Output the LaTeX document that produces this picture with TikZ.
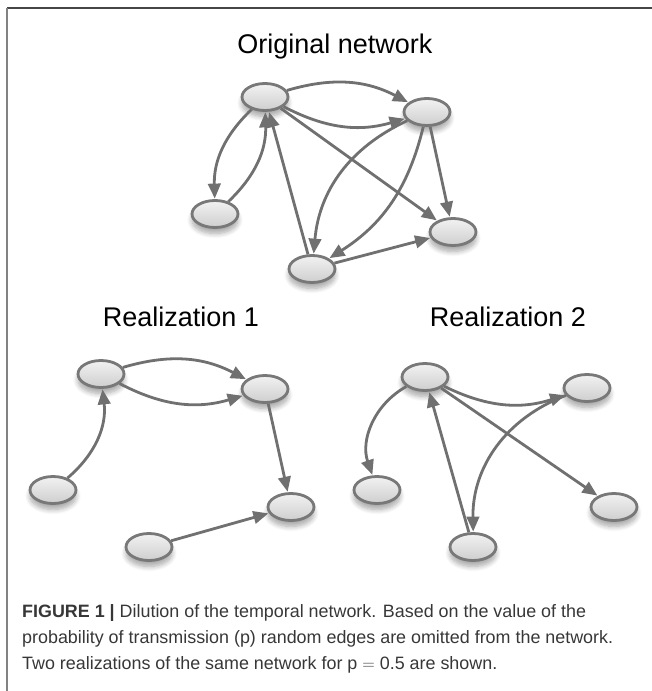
\documentclass[tikz,border=0pt]{standalone}
\usepackage{fontspec}
\setmainfont{Liberation Sans}
\usetikzlibrary{arrows.meta,shapes.geometric,shadows.blur}
\definecolor{edgegray}{RGB}{112, 112, 112}
\definecolor{rimgray}{RGB}{120, 120, 120}
\definecolor{filltop}{RGB}{242, 242, 242}
\definecolor{fillbottom}{RGB}{206, 206, 206}
\definecolor{framedark}{RGB}{70, 70, 70}
\definecolor{framelight}{RGB}{130, 130, 130}
\definecolor{captiongray}{RGB}{55, 55, 55}

\begin{document}
\begin{tikzpicture}[
        x=1pt, y=1pt,
        vertex/.style={ellipse, draw=rimgray, line width=2.8pt, minimum width=46pt, minimum height=27pt, inner sep=0pt,
            top color=filltop, bottom color=fillbottom,
            blur shadow={shadow xshift=0pt, shadow yshift=-6pt, shadow blur steps=8, shadow blur radius=5pt, shadow opacity=35}},
        link/.style={-{Triangle[length=15pt,width=12.5pt]}, line width=2.8pt, color=edgegray, shorten >=0.5pt},
        heading/.style={font=\fontsize{27}{30}\selectfont, text=black, inner sep=0pt}
    ]
    \useasboundingbox (0,0) rectangle (652,-691);

    % Frame lines
    \draw[framedark, line width=2pt] (7,-8) -- (652,-8);
    \draw[framelight, line width=2pt] (7,-8) -- (7,-691);

    % Titles
    \node[heading, anchor=base] (torig) at (335,-53) {Original network};
    \node[heading, anchor=base] (treal1) at (181,-326) {Realization 1};
    \node[heading, anchor=base] (treal2) at (508,-326) {Realization 2};

    % Original network
    \node[vertex] (oA) at (265,-97) {};
    \node[vertex] (oB) at (427,-112) {};
    \node[vertex] (oC) at (215,-214) {};
    \node[vertex] (oD) at (312,-269) {};
    \node[vertex] (oE) at (453,-232) {};

    \draw[link] (oA) to[bend left=22] (oB);
    \draw[link] (oA) to[bend right=22] (oB);
    \draw[link] (oA) to[bend right=24] (oC);
    \draw[link] (oC) to[bend right=24] (oA);
    \draw[link] (oD) -- (oA);
    \draw[link] (oA) -- (oE);
    \draw[link] (oB) -- (oE);
    \draw[link] (oB) to[bend right=30] (oD);
    \draw[link] (oB) to[bend left=22] (oD);
    \draw[link] (oD) -- (oE);

    % Realization 1
    \node[vertex] (pA) at (101,-374) {};
    \node[vertex] (pB) at (265,-389) {};
    \node[vertex] (pC) at (53,-490) {};
    \node[vertex] (pD) at (149,-547) {};
    \node[vertex] (pE) at (291,-507) {};

    \draw[link] (pA) to[bend left=22] (pB);
    \draw[link] (pA) to[bend right=22] (pB);
    \draw[link] (pC) to[bend right=28] (pA);
    \draw[link] (pB) -- (pE);
    \draw[link] (pD) -- (pE);

    % Realization 2
    \node[vertex] (qA) at (425,-377) {};
    \node[vertex] (qB) at (587,-388) {};
    \node[vertex] (qC) at (377,-490) {};
    \node[vertex] (qD) at (473,-547) {};
    \node[vertex] (qE) at (614,-507) {};

    \draw[link] (qA) to[bend right=22] (qB);
    \draw[link] (qA) to[bend right=40] (qC);
    \draw[link] (qD) -- (qA);
    \draw[link] (qA) -- (qE);
    \draw[link] (qB) to[bend right=35] (qD);

    % Caption
    \node[anchor=north west, align=left, inner sep=0pt, text=captiongray,
        font=\fontsize{17.9}{26}\selectfont] (caption) at (22,-604)
        {\textbf{FIGURE 1 |} Dilution of the temporal network. Based on the value of the\\
         probability of transmission (p) random edges are omitted from the network.\\
         Two realizations of the same network for p $=$ 0.5 are shown.};
\end{tikzpicture}
\end{document}
